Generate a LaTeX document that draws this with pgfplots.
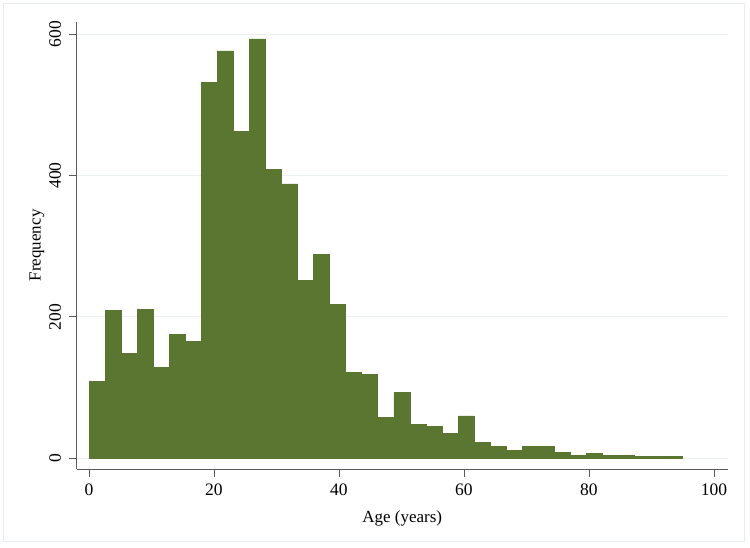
\documentclass[border=0pt]{standalone}
\usepackage{fontspec}
\setmainfont{Liberation Serif}
\usepackage{pgfplots}
\pgfplotsset{compat=1.18}
\definecolor{barg}{RGB}{90,118,48}
\definecolor{gridc}{RGB}{234,240,242}
\definecolor{axc}{RGB}{90,90,90}
\definecolor{framec}{RGB}{230,236,240}
\begin{document}
\begin{tikzpicture}[x=1pt,y=1pt]
\path[use as bounding box] (-76.7,-78) rectangle (673.3,469);
\draw[framec, line width=0.8pt] (-73.7,-72) rectangle (667.3,466);
\begin{axis}[
  at={(0,0)}, anchor=south west,
  scale only axis, width=651pt, height=447.3pt,
  xmin=-1.97, xmax=102.2, ymin=-15.1, ymax=617.4,
  axis lines*=left,
  axis line style={axc, line width=0.9pt},
  xtick={0,20,...,100}, ytick={0,200,400,600},
  tick align=outside, major tick length=7.5pt,
  tick style={axc, line width=0.9pt},
  ymajorgrids, grid style={gridc, line width=0.9pt},
  /pgf/number format/assume math mode=true,
  tick label style={font=\fontsize{17.5}{20}\selectfont, text=black},
  yticklabel style={rotate=90, anchor=south, inner sep=0pt, yshift=8pt},
  xticklabel style={anchor=north, yshift=-4pt},
  label style={font=\fontsize{17}{20}\selectfont},
  xlabel={Age (years)},
  ylabel={Frequency},
  xlabel style={at={(axis description cs:0.5,-0.1095)}, anchor=center},
  ylabel style={at={(axis description cs:-0.061,0.5)}, anchor=center},
]
\addplot[ybar interval, fill=barg, draw=barg, line width=0.7pt] coordinates {
(0.0000,109) (2.5676,209) (5.1351,148) (7.7027,211) (10.2703,129)
(12.8378,175) (15.4054,165) (17.9730,532) (20.5405,576) (23.1081,462)
(25.6757,593) (28.2432,409) (30.8108,388) (33.3784,251) (35.9459,288)
(38.5135,218) (41.0811,122) (43.6486,119) (46.2162,58) (48.7838,93)
(51.3514,48) (53.9189,45) (56.4865,35) (59.0541,60) (61.6216,22)
(64.1892,17) (66.7568,11) (69.3243,17) (71.8919,17) (74.4595,8)
(77.0270,4) (79.5946,7) (82.1622,4) (84.7297,4) (87.2973,3)
(89.8649,3) (92.4324,3) (95.0000,3)
};
\end{axis}
\end{tikzpicture}
\end{document}
